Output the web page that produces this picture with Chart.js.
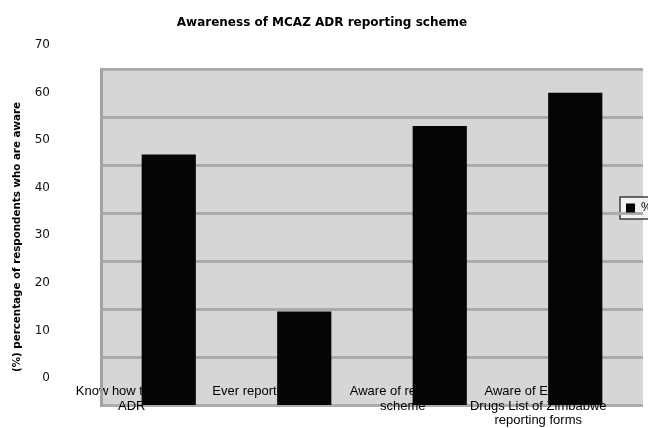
<!DOCTYPE html>
<html>
<head>
<meta charset="utf-8">
<script src="https://cdn.jsdelivr.net/npm/chart.js@4.4.1/dist/chart.umd.min.js"></script>
<style>
    html, body { margin: 0; padding: 0; background: #fff; }
    .chart_box { width: 648px; height: 428px; }
</style>
</head>
<body>
<div class="chart_box"><canvas id="awareness_chart"></canvas></div>
<script>
const categories = [
    ['Know how to report', 'ADR'],
    'Ever reported ADR',
    ['Aware of reporting', 'scheme'],
    ['Aware of Essential', 'Drugs List of Zimbabwe', 'reporting forms']
]
const aware_percent = [47, 14, 53, 60]
const y_ticks = [0, 10, 20, 30, 40, 50, 60, 70]

// the scan has the plot box sitting lower/right of its text, so the
// value axis starts a bit below zero and the grid has its own axis
const value_min = -5.7
const value_max = 65

const awareness_chart = document.querySelector('#awareness_chart')

// grey plot box + framed legend, painted before grid and labels
const plotBackground = {
    id: 'plotBackground',
    beforeDraw(chart) {
        const { ctx, chartArea, legend } = chart
        ctx.save()
        ctx.fillStyle = '#d6d6d6'
        ctx.fillRect(chartArea.left, chartArea.top, chartArea.width, chartArea.height)
        const hb = legend.legendHitBoxes[0]
        if (hb) {
            ctx.fillStyle = '#f2f2f2'
            ctx.fillRect(hb.left - 6, hb.top - 5, 60, hb.height + 10)
            ctx.strokeStyle = '#111'
            ctx.lineWidth = 1.2
            ctx.strokeRect(hb.left - 6, hb.top - 5, 60, hb.height + 10)
        }
        ctx.restore()
    }
}

// legend overlaps the right edge of the plot box in the scan
const legendPlacer = {
    id: 'legendPlacer',
    afterLayout(chart) {
        const legend = chart.legend
        legend.left = chart.chartArea.right - 27
        legend.right = legend.left + 40
        legend.top -= 6
        legend.bottom -= 6
    }
}

function awarenessChart() {
    new Chart(awareness_chart, {
        type: 'bar',
        data: {
            labels: categories,
            datasets: [{
                label: '%',
                data: aware_percent,
                yAxisID: 'y',
                base: value_min,
                backgroundColor: '#050505',
                borderWidth: 0,
                barPercentage: 0.4,
                categoryPercentage: 1
            }]
        },
        options: {
            responsive: true,
            maintainAspectRatio: false,
            animation: false,
            layout: { padding: { left: 0, right: 4, top: 0, bottom: 0 } },
            plugins: {
                title: {
                    display: true,
                    text: 'Awareness of MCAZ ADR reporting scheme',
                    color: '#000',
                    font: { family: 'DejaVu Sans', size: 12, weight: 'bold' },
                    padding: { top: 16, bottom: 38.6 }
                },
                legend: {
                    display: true,
                    position: 'right',
                    maxWidth: 1,
                    labels: {
                        boxWidth: 9,
                        boxHeight: 9,
                        padding: 10,
                        color: '#000',
                        font: { family: 'Liberation Sans', size: 12 }
                    }
                },
                tooltip: { enabled: false }
            },
            scales: {
                x: {
                    grid: { display: false, drawTicks: false },
                    border: { display: false },
                    ticks: {
                        autoSkip: false,
                        maxRotation: 0,
                        mirror: true,
                        padding: 6,
                        labelOffset: -37,
                        color: '#000',
                        font: { family: 'Liberation Sans', size: 13, lineHeight: 1.1 }
                    },
                    afterFit: (axis) => {
                        axis.height = 23
                        axis.paddingLeft = 0
                        axis.paddingRight = 0
                    }
                },
                y: {
                    position: 'left',
                    weight: 1,
                    min: value_min,
                    max: value_max,
                    grid: { display: false, drawTicks: false },
                    border: { display: false },
                    ticks: {
                        padding: 51,
                        color: '#111',
                        font: { family: 'DejaVu Sans', size: 12 }
                    },
                    afterBuildTicks: (axis) => {
                        axis.ticks = y_ticks.map(v => ({ value: v }))
                    },
                    title: {
                        display: true,
                        text: '(%) percentage of respondents who are aware',
                        color: '#000',
                        font: { family: 'DejaVu Sans', size: 10.3, weight: 'bold' },
                        padding: { top: 11, bottom: 0 }
                    },
                    afterFit: (axis) => {
                        axis.width = 101
                        axis.paddingTop = 0
                        axis.paddingBottom = 0
                    }
                },
                yGrid: {
                    type: 'linear',
                    position: 'left',
                    weight: 0,
                    min: 0,
                    max: 70,
                    ticks: { display: false, stepSize: 10 },
                    grid: { color: '#ababab', lineWidth: 3, drawTicks: false },
                    border: { display: true, color: '#a2a2a2', width: 3 },
                    afterFit: (axis) => {
                        axis.width = 0
                        axis.paddingTop = 0
                        axis.paddingBottom = 0
                    }
                }
            }
        },
        plugins: [plotBackground, legendPlacer]
    })
}

awarenessChart()
</script>
</body>
</html>
